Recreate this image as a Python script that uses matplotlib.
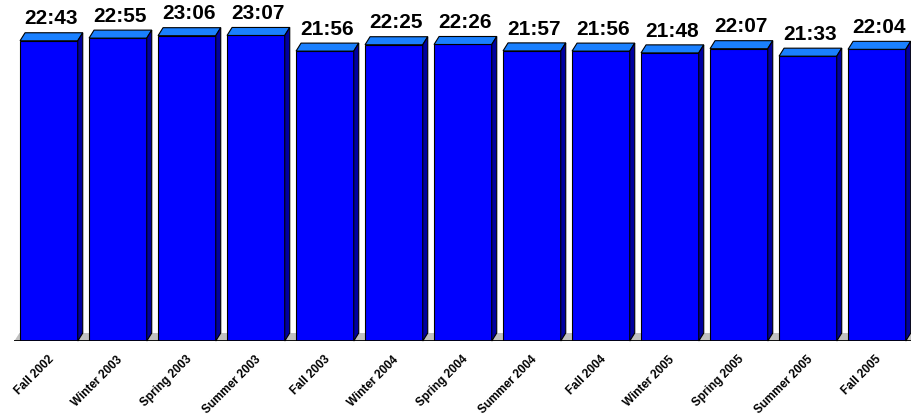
import matplotlib
matplotlib.use("Agg")
import matplotlib.pyplot as plt
from matplotlib.patches import Polygon

terms = ["Fall 2002", "Winter 2003", "Spring 2003", "Summer 2003", "Fall 2003",
         "Winter 2004", "Spring 2004", "Summer 2004", "Fall 2004", "Winter 2005",
         "Spring 2005", "Summer 2005", "Fall 2005"]
times = ["22:43", "22:55", "23:06", "23:07", "21:56", "22:25", "22:26",
         "21:57", "21:56", "21:48", "22:07", "21:33", "22:04"]

minutes = [int(t.split(":")[0]) * 60 + int(t.split(":")[1]) for t in times]

W, H = 911, 420
fig = plt.figure(figsize=(W / 100, H / 100), dpi=100)
plt.rcParams['font.family'] = ['Liberation Sans', 'DejaVu Sans']

ax_left, ax_bottom, ax_w, ax_h = 14.4, 79, 897, 341
ax = fig.add_axes([ax_left / W, ax_bottom / H, ax_w / W, ax_h / H])
ymax = 1548
ax.set_xlim(-0.5, len(terms) - 0.5)
ax.set_ylim(0, ymax)

# depth of the fake 3d in data units
px_x = ax_w / len(terms)
px_y = ax_h / ymax
dx = 5 / px_x
dy = 8 / px_y
width = 0.836

front = "#0000ff"
top = "#1a80ff"
side = "#0000a0"

# floor
floor = Polygon([(-0.5, 0), (len(terms), 0), (len(terms) + dx, dy), (-0.5 + dx, dy)],
                closed=True, facecolor="#c0c0c0", edgecolor="none", zorder=1)
ax.add_patch(floor)

x = list(range(len(terms)))
ax.bar(x, minutes, width=width, color=front, edgecolor="black", linewidth=0.8, zorder=3)

for i, v in enumerate(minutes):
    x0 = i - width / 2
    x1 = i + width / 2
    ax.add_patch(Polygon([(x0, v), (x1, v), (x1 + dx, v + dy), (x0 + dx, v + dy)],
                         closed=True, facecolor=top, edgecolor="black", linewidth=0.8,
                         zorder=3, clip_on=False))
    ax.add_patch(Polygon([(x1, 0), (x1 + dx, dy), (x1 + dx, v + dy), (x1, v)],
                         closed=True, facecolor=side, edgecolor="black", linewidth=0.8,
                         zorder=3, clip_on=False))
    ax.annotate(times[i], (i + dx / 2, v + dy), xytext=(0, 6), textcoords="offset points",
                ha="center", va="baseline", fontsize=15, fontweight="bold")

ax.axhline(0, color="black", linewidth=2, zorder=4)
ax.axhline(-1.5 / px_y, color="#c8c8c8", linewidth=1.5, zorder=4)

for s in ax.spines.values():
    s.set_visible(False)
ax.set_yticks([])
ax.set_xticks(x)
ax.set_xticklabels([])
# tick labels placed by hand so the angle is exact
for i, t in enumerate(terms):
    ax.annotate(t, (i, 0), xytext=(-1, -9), textcoords="offset points",
                rotation=45, ha="right", va="top", rotation_mode="anchor",
                fontsize=8.5, fontweight="bold", annotation_clip=False)
ax.tick_params(axis="x", length=0)

fig.savefig("out.png", dpi=100)
